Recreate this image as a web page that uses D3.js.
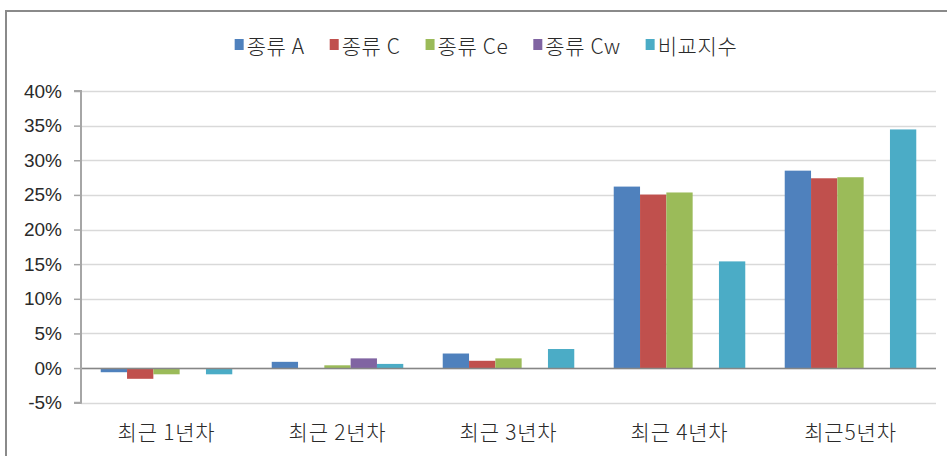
<!DOCTYPE html>
<html>
<head>
<meta charset="utf-8">
<script src="https://cdn.jsdelivr.net/npm/d3@7"></script>
<style>
  body { margin: 0; background: #fff; }
  svg text { fill: #2a2a2a; }
</style>
</head>
<body>
<div id="chart"></div>
<script>
// 카테고리, 시리즈 값 (%)
const categories = ["최근 1년차", "최근 2년차", "최근 3년차", "최근 4년차", "최근5년차"];
const seriesNames = ["종류 A", "종류 C", "종류 Ce", "종류 Cw", "비교지수"];
const typeA = [-0.6, 0.9, 2.1, 26.2, 28.5];
const typeC = [-1.55, 0, 1.05, 25.05, 27.4];
const typeCe = [-0.9, 0.4, 1.4, 25.35, 27.55];
const typeCw = [0, 1.4, 0, 0, 0];
const compareIdx = [-0.9, 0.6, 2.75, 15.4, 34.45];
const yTicks = [-5, 0, 5, 10, 15, 20, 25, 30, 35, 40];
const colors = ["#4F81BD", "#C0504D", "#9BBB59", "#8064A2", "#4BACC6"];

const allSeries = [typeA, typeC, typeCe, typeCw, compareIdx];

const width = 947, height = 456;
const margin = {left: 81, right: 11, top: 91, bottom: 53};

const svg = d3.select("#chart").append("svg")
    .attr("width", width)
    .attr("height", height);

// 바깥 테두리
svg.append("rect")
    .attr("x", 6).attr("y", 11)
    .attr("width", width + 20).attr("height", height + 20)
    .attr("fill", "none")
    .attr("stroke", "#8a8a8a")
    .attr("stroke-width", 2);

const x = d3.scaleBand()
    .domain(categories)
    .range([margin.left, width - margin.right]);

// 간격 너비 150%
const barW = x.bandwidth() / (seriesNames.length + 1.5);
const x1 = d3.scaleBand()
    .domain(seriesNames)
    .range([0, barW * seriesNames.length]);

const y = d3.scaleLinear()
    .domain([-5, 40])
    .range([402.7, margin.top]);

// 눈금선
svg.append("g").selectAll("line")
    .data(yTicks).enter().append("line")
    .attr("x1", margin.left).attr("x2", width - margin.right)
    .attr("y1", d => Math.round(y(d)) + 0.5)
    .attr("y2", d => Math.round(y(d)) + 0.5)
    .attr("stroke", "#d9d9d9")
    .attr("stroke-width", 1.5);

// 막대
const groups = svg.append("g").selectAll("g")
    .data(categories).enter().append("g")
    .attr("transform", d => `translate(${x(d) + (x.bandwidth() - barW * seriesNames.length) / 2},0)`);

groups.selectAll("rect")
    .data((c, ci) => seriesNames.map((s, si) => ({s: s, si: si, v: allSeries[si][ci]})))
    .enter().append("rect")
    .attr("x", d => x1(d.s))
    .attr("width", x1.bandwidth())
    .attr("y", d => y(Math.max(0, d.v)))
    .attr("height", d => Math.abs(y(d.v) - y(0)))
    .attr("fill", d => colors[d.si]);

// 0 기준선
svg.append("line")
    .attr("x1", margin.left).attr("x2", width - margin.right)
    .attr("y1", Math.round(y(0)) + 0.5).attr("y2", Math.round(y(0)) + 0.5)
    .attr("stroke", "#868686")
    .attr("stroke-width", 1.5);

// y축
const yAxis = d3.axisLeft(y)
    .tickValues(yTicks)
    .tickSize(7)
    .tickPadding(12)
    .tickFormat(d => d + "%");

const gy = svg.append("g")
    .attr("transform", `translate(${margin.left},0)`)
    .call(yAxis);
gy.select(".domain").attr("stroke", "#a6a6a6").attr("stroke-width", 2)
    .attr("d", `M-7,${y(40)}H0V${y(-5)}H-7`);
gy.selectAll(".tick line").attr("stroke", "#a6a6a6").attr("stroke-width", 1.5);
gy.selectAll(".tick text")
    .attr("font-family", "'Liberation Sans', Arial, sans-serif")
    .attr("font-size", 19)
    .attr("fill", "#333");

// 카테고리 라벨
svg.append("g").selectAll("text")
    .data(categories).enter().append("text")
    .attr("x", d => x(d) + x.bandwidth() / 2)
    .attr("y", 440)
    .attr("text-anchor", "middle")
    .attr("font-family", "'Noto Sans CJK KR', sans-serif")
    .attr("font-weight", 300)
    .attr("font-size", 21)
    .attr("letter-spacing", 0.8)
    .text(d => d);

// 범례
const legend = svg.append("g");
const items = legend.selectAll("g")
    .data(seriesNames).enter().append("g");
items.append("rect")
    .attr("width", 9).attr("height", 11)
    .attr("y", 39)
    .attr("fill", (d, i) => colors[i]);
items.append("text")
    .attr("x", 12)
    .attr("y", 54)
    .attr("font-family", "'Noto Sans CJK KR', sans-serif")
    .attr("font-weight", 300)
    .attr("font-size", 21)
    .attr("letter-spacing", 0.6)
    .text(d => d);

let cx = 0;
items.each(function () {
    const w = 12 + d3.select(this).select("text").node().getComputedTextLength();
    d3.select(this).attr("transform", `translate(${cx},0)`);
    cx += w + 25;
});
const legendW = cx - 25;
legend.attr("transform", `translate(${486 - legendW / 2},0)`);
</script>
</body>
</html>
